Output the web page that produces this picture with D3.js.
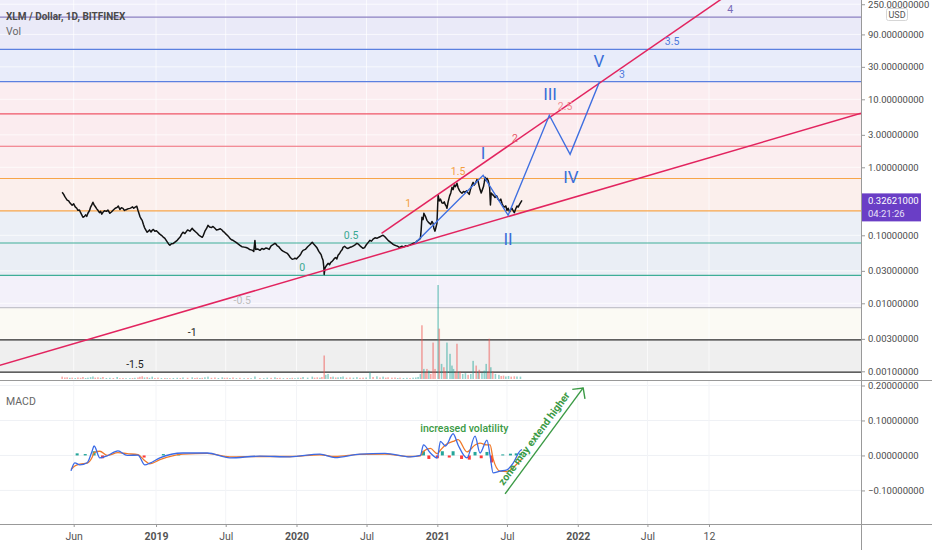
<!DOCTYPE html>
<html>
<head>
<meta charset="utf-8">
<script src="https://cdn.jsdelivr.net/npm/d3@7"></script>
<style>
body{margin:0;background:#fff;}
svg{display:block;font-family:"Liberation Sans Narrow","Roboto",sans-serif;}
</style>
</head>
<body>
<svg width="932" height="550"></svg>
<script>
// XLM / USD daily closes (sampled off the chart)
var priceData = [
["2018-05-02",0.43],["2018-05-06",0.40],["2018-05-09",0.37],["2018-05-12",0.35],["2018-05-15",0.33],["2018-05-19",0.32],["2018-05-22",0.30],
["2018-05-28",0.276],["2018-06-01",0.29],["2018-06-05",0.262],["2018-06-09",0.25],["2018-06-12",0.233],["2018-06-16",0.235],["2018-06-19",0.215],
["2018-06-22",0.20],["2018-06-25",0.184],["2018-06-29",0.19],["2018-07-02",0.20],["2018-07-05",0.19],["2018-07-08",0.211],["2018-07-12",0.23],
["2018-07-15",0.26],["2018-07-18",0.28],["2018-07-21",0.306],["2018-07-24",0.28],["2018-07-27",0.265],["2018-07-31",0.245],["2018-08-03",0.233],
["2018-08-07",0.215],["2018-08-10",0.225],["2018-08-13",0.205],["2018-08-16",0.218],["2018-08-20",0.23],["2018-08-25",0.225],["2018-08-29",0.235],
["2018-09-03",0.211],["2018-09-07",0.22],["2018-09-12",0.235],["2018-09-17",0.25],["2018-09-22",0.258],["2018-09-25",0.27],["2018-09-29",0.24],
["2018-10-03",0.255],["2018-10-07",0.249],["2018-10-11",0.232],["2018-10-15",0.238],["2018-10-20",0.245],["2018-10-25",0.249],["2018-10-29",0.255],
["2018-11-01",0.262],["2018-11-04",0.25],["2018-11-07",0.258],["2018-11-12",0.268],["2018-11-15",0.233],["2018-11-20",0.19],["2018-11-23",0.175],
["2018-11-26",0.166],["2018-11-29",0.145],["2018-12-02",0.13],["2018-12-06",0.118],["2018-12-09",0.111],["2018-12-12",0.115],["2018-12-15",0.12],
["2018-12-19",0.112],["2018-12-22",0.1185],["2018-12-25",0.122],["2018-12-29",0.115],["2019-01-02",0.117],["2019-01-06",0.111],["2019-01-10",0.105],
["2019-01-15",0.10],["2019-01-19",0.095],["2019-01-24",0.0904],["2019-01-27",0.085],["2019-01-30",0.08],["2019-02-03",0.074],["2019-02-06",0.0713],
["2019-02-10",0.075],["2019-02-15",0.076],["2019-02-20",0.08],["2019-02-25",0.0844],["2019-03-01",0.09],["2019-03-05",0.095],["2019-03-08",0.103],
["2019-03-12",0.111],["2019-03-17",0.106],["2019-03-24",0.12],["2019-03-30",0.115],["2019-04-05",0.1268],["2019-04-08",0.12],["2019-04-12",0.115],
["2019-04-18",0.107],["2019-04-22",0.101],["2019-04-25",0.098],["2019-05-01",0.0935],["2019-05-04",0.1],["2019-05-08",0.115],["2019-05-12",0.125],
["2019-05-16",0.140],["2019-05-20",0.132],["2019-05-25",0.13],["2019-05-29",0.135],["2019-06-03",0.1268],["2019-06-07",0.12],["2019-06-12",0.122],
["2019-06-17",0.125],["2019-06-22",0.1185],["2019-06-25",0.113],["2019-06-28",0.11],["2019-07-02",0.104],["2019-07-05",0.100],["2019-07-09",0.095],
["2019-07-12",0.09],["2019-07-16",0.086],["2019-07-20",0.0844],["2019-07-25",0.081],["2019-07-29",0.078],["2019-08-03",0.074],["2019-08-07",0.0713],
["2019-08-12",0.068],["2019-08-18",0.067],["2019-08-23",0.066],["2019-08-28",0.0644],["2019-09-01",0.062],["2019-09-05",0.061],["2019-09-09",0.06],
["2019-09-12",0.058],["2019-09-15",0.084],["2019-09-17",0.062],["2019-09-22",0.063],["2019-09-28",0.0601],["2019-10-03",0.064],["2019-10-08",0.062],
["2019-10-13",0.065],["2019-10-17",0.0644],["2019-10-22",0.062],["2019-10-27",0.07],["2019-11-01",0.073],["2019-11-06",0.0763],["2019-11-09",0.074],
["2019-11-12",0.07],["2019-11-16",0.068],["2019-11-19",0.0644],["2019-11-24",0.060],["2019-11-28",0.058],["2019-12-03",0.056],["2019-12-08",0.0543],
["2019-12-12",0.051],["2019-12-15",0.048],["2019-12-18",0.046],["2019-12-21",0.0444],["2019-12-25",0.045],["2019-12-28",0.046],["2020-01-01",0.045],
["2020-01-05",0.0475],["2020-01-09",0.05],["2020-01-12",0.053],["2020-01-15",0.057],["2020-01-18",0.0601],["2020-01-24",0.062],["2020-01-30",0.068],
["2020-02-04",0.072],["2020-02-08",0.076],["2020-02-11",0.0789],["2020-02-14",0.075],["2020-02-17",0.072],["2020-02-21",0.068],["2020-02-24",0.0644],
["2020-02-28",0.058],["2020-03-02",0.055],["2020-03-05",0.052],["2020-03-07",0.0475],["2020-03-10",0.043],["2020-03-12",0.034],["2020-03-13",0.0265],
["2020-03-15",0.033],["2020-03-19",0.036],["2020-03-23",0.0387],["2020-03-27",0.037],["2020-03-30",0.04],["2020-04-02",0.041],["2020-04-05",0.0429],
["2020-04-09",0.046],["2020-04-12",0.047],["2020-04-15",0.045],["2020-04-18",0.0508],["2020-04-22",0.054],["2020-04-25",0.058],["2020-04-29",0.062],
["2020-05-01",0.0667],["2020-05-05",0.069],["2020-05-10",0.065],["2020-05-14",0.064],["2020-05-19",0.0667],["2020-05-24",0.068],["2020-05-28",0.07],
["2020-06-02",0.073],["2020-06-06",0.0763],["2020-06-10",0.074],["2020-06-14",0.07],["2020-06-18",0.067],["2020-06-22",0.0644],["2020-06-26",0.066],
["2020-06-30",0.072],["2020-07-05",0.078],["2020-07-10",0.0844],["2020-07-14",0.082],["2020-07-18",0.088],["2020-07-23",0.092],["2020-07-28",0.0904],
["2020-08-01",0.093],["2020-08-05",0.095],["2020-08-09",0.098],["2020-08-13",0.100],["2020-08-17",0.096],["2020-08-20",0.092],["2020-08-23",0.088],
["2020-08-26",0.0844],["2020-08-31",0.08],["2020-09-05",0.076],["2020-09-09",0.073],["2020-09-13",0.0713],["2020-09-17",0.07],["2020-09-20",0.069],
["2020-09-23",0.067],["2020-09-26",0.0667],["2020-10-01",0.069],["2020-10-05",0.067],["2020-10-10",0.07],["2020-10-14",0.0689],["2020-10-18",0.071],
["2020-10-22",0.072],["2020-10-26",0.074],["2020-10-30",0.0763],["2020-11-03",0.077],["2020-11-06",0.079],["2020-11-09",0.082],["2020-11-12",0.0844],
["2020-11-15",0.087],["2020-11-18",0.09],["2020-11-20",0.12],["2020-11-22",0.184],["2020-11-25",0.17],["2020-11-27",0.211],["2020-12-01",0.19],
["2020-12-05",0.166],["2020-12-09",0.155],["2020-12-12",0.15],["2020-12-15",0.145],["2020-12-18",0.16],["2020-12-21",0.15],["2020-12-23",0.127],
["2020-12-26",0.115],["2020-12-28",0.128],["2020-12-31",0.15],["2021-01-03",0.388],["2021-01-06",0.32],["2021-01-09",0.34],["2021-01-13",0.30],
["2021-01-16",0.296],["2021-01-19",0.31],["2021-01-22",0.28],["2021-01-24",0.27],["2021-01-26",0.25],["2021-01-29",0.31],["2021-02-02",0.38],
["2021-02-05",0.42],["2021-02-08",0.508],["2021-02-11",0.47],["2021-02-14",0.55],["2021-02-17",0.52],["2021-02-21",0.582],["2021-02-24",0.50],
["2021-02-28",0.45],["2021-03-03",0.43],["2021-03-06",0.415],["2021-03-10",0.44],["2021-03-14",0.43],["2021-03-18",0.45],["2021-03-22",0.42],
["2021-03-25",0.40],["2021-03-28",0.47],["2021-04-01",0.55],["2021-04-04",0.601],["2021-04-07",0.55],["2021-04-10",0.58],["2021-04-14",0.66],
["2021-04-17",0.62],["2021-04-20",0.52],["2021-04-22",0.47],["2021-04-25",0.42],["2021-04-27",0.45],["2021-05-01",0.52],["2021-05-03",0.60],
["2021-05-05",0.713],["2021-05-08",0.64],["2021-05-10",0.69],["2021-05-13",0.644],["2021-05-15",0.58],["2021-05-17",0.5],["2021-05-19",0.28],
["2021-05-21",0.42],["2021-05-24",0.40],["2021-05-28",0.38],["2021-05-31",0.36],["2021-06-04",0.38],["2021-06-08",0.34],["2021-06-12",0.32],
["2021-06-15",0.34],["2021-06-18",0.296],["2021-06-21",0.27],["2021-06-24",0.26],["2021-06-28",0.27],["2021-07-01",0.233],["2021-07-04",0.25],
["2021-07-08",0.22],["2021-07-11",0.24],["2021-07-14",0.25],["2021-07-17",0.23],["2021-07-20",0.215],["2021-07-23",0.24],["2021-07-27",0.27],
["2021-07-30",0.26],["2021-08-02",0.28],["2021-08-05",0.30],["2021-08-09",0.326]
]
var lastPrice = 0.32621
var lastPriceText = ["0.32621000","04:21:26"]

// volume: date, value, 1 = up bar / 0 = down bar
var volData = [
["2018-05-02",14,0],["2018-05-09",9,0],["2018-05-15",10,0],["2018-05-22",7,1],["2018-05-28",8,0],["2018-06-05",6,1],["2018-06-12",9,0],
["2018-06-19",7,0],["2018-06-25",12,0],["2018-07-02",6,1],["2018-07-08",8,1],["2018-07-15",11,1],["2018-07-21",15,1],["2018-07-27",8,0],
["2018-08-03",10,0],["2018-08-10",7,1],["2018-08-16",12,0],["2018-08-25",6,1],["2018-09-03",7,1],["2018-09-12",6,0],["2018-09-22",12,1],
["2018-09-29",5,0],["2018-10-07",6,0],["2018-10-15",5,1],["2018-10-25",5,1],["2018-11-01",6,0],["2018-11-07",7,1],["2018-11-15",9,0],
["2018-11-20",13,0],["2018-11-26",16,0],["2018-12-02",9,1],["2018-12-09",11,0],["2018-12-15",7,1],["2018-12-22",14,1],["2018-12-29",6,0],
["2019-01-06",8,0],["2019-01-15",6,1],["2019-01-24",6,0],["2019-01-30",5,1],["2019-02-06",5,0],["2019-02-15",6,1],["2019-02-25",7,1],
["2019-03-05",6,0],["2019-03-12",9,1],["2019-03-24",7,0],["2019-04-05",10,1],["2019-04-12",6,0],["2019-04-18",8,0],["2019-04-25",6,1],
["2019-05-01",7,0],["2019-05-08",10,1],["2019-05-16",14,1],["2019-05-25",7,0],["2019-06-03",9,0],["2019-06-12",6,1],["2019-06-22",10,1],
["2019-06-28",7,0],["2019-07-05",8,0],["2019-07-12",6,1],["2019-07-20",9,0],["2019-07-29",5,1],["2019-08-07",7,0],["2019-08-18",5,1],
["2019-08-28",6,0],["2019-09-05",5,1],["2019-09-15",15,1],["2019-09-28",6,0],["2019-10-08",5,1],["2019-10-17",8,1],["2019-10-27",7,0],
["2019-11-06",10,1],["2019-11-12",6,0],["2019-11-19",7,0],["2019-11-28",5,1],["2019-12-08",6,0],["2019-12-15",5,1],["2019-12-21",7,0],
["2019-12-28",5,1],["2020-01-05",8,1],["2020-01-12",7,0],["2020-01-18",12,1],["2020-01-30",8,1],["2020-02-11",14,1],["2020-02-17",8,0],
["2020-02-24",10,0],["2020-03-02",8,1],["2020-03-07",12,0],["2020-03-13",140,0],["2020-03-17",25,1],["2020-03-23",30,1],["2020-03-30",12,0],
["2020-04-05",14,1],["2020-04-12",9,0],["2020-04-18",10,1],["2020-04-25",12,1],["2020-05-01",15,1],["2020-05-10",8,0],["2020-05-19",9,0],
["2020-05-28",8,1],["2020-06-06",11,1],["2020-06-14",7,0],["2020-06-22",8,0],["2020-06-30",9,1],["2020-07-10",40,1],["2020-07-18",12,0],
["2020-07-28",16,1],["2020-08-05",9,0],["2020-08-13",14,1],["2020-08-20",8,0],["2020-08-26",10,0],["2020-09-05",8,0],["2020-09-13",9,0],
["2020-09-20",6,1],["2020-09-26",8,0],["2020-10-05",6,1],["2020-10-14",7,1],["2020-10-22",6,0],["2020-10-30",8,1],["2020-11-06",9,1],
["2020-11-12",12,1],["2020-11-18",30,1],["2020-11-22",320,0],["2020-11-27",60,1],["2020-12-01",40,0],["2020-12-05",60,0],["2020-12-10",50,1],
["2020-12-15",30,0],["2020-12-21",217,0],["2020-12-26",60,0],["2021-01-03",560,1],["2021-01-06",300,0],["2021-01-12",90,1],["2021-01-18",70,0],
["2021-01-22",45,0],["2021-01-26",217,1],["2021-02-03",150,1],["2021-02-08",80,1],["2021-02-12",60,1],["2021-02-17",40,0],["2021-02-21",210,0],
["2021-02-25",40,1],["2021-03-01",45,0],["2021-03-08",30,1],["2021-03-15",35,1],["2021-03-22",25,0],["2021-03-29",30,1],["2021-04-04",108,1],
["2021-04-12",80,0],["2021-04-17",40,1],["2021-04-20",55,0],["2021-04-27",35,1],["2021-05-03",50,1],["2021-05-08",90,1],["2021-05-12",40,0],
["2021-05-16",240,0],["2021-05-20",70,1],["2021-05-25",45,0],["2021-06-01",30,1],["2021-06-10",25,1],["2021-06-16",18,0],["2021-06-22",20,0],
["2021-06-28",15,1],["2021-07-05",18,1],["2021-07-12",14,0],["2021-07-20",16,0],["2021-07-27",15,1],["2021-08-05",14,1]
]

// MACD: date, macd, signal
var macdData = [
["2018-05-25",-0.044,-0.040],["2018-06-04",-0.021,-0.030],["2018-06-17",-0.027,-0.025],["2018-07-06",-0.021,-0.022],
["2018-07-19",0.013,-0.005],["2018-07-24",0.027,0.008],["2018-08-08",-0.007,0.012],["2018-08-27",-0.001,0.0],
["2018-09-24",0.013,0.008],["2018-10-18",0.0,0.005],["2018-11-15",0.001,0.002],["2018-12-03",-0.027,-0.015],
["2018-12-16",-0.022,-0.024],["2019-01-11",-0.007,-0.012],["2019-03-12",0.007,0.004],["2019-05-14",0.007,0.006],
["2019-07-12",-0.007,-0.004],["2019-09-28",-0.002,-0.003],["2019-12-15",-0.004,-0.003],["2020-03-02",0.004,0.002],
["2020-04-10",-0.006,-0.003],["2020-06-14",0.004,0.003],["2020-08-18",0.006,0.004],["2020-10-23",-0.004,-0.003],
["2020-11-18",0.0,-0.001],["2020-11-26",0.030,0.012],["2020-12-14",0.007,0.020],["2021-01-01",-0.007,0.005],
["2021-01-09",0.040,0.015],["2021-01-22",0.027,0.030],["2021-02-11",0.062,0.040],["2021-02-24",0.030,0.045],
["2021-03-19",-0.007,0.010],["2021-04-09",0.055,0.030],["2021-04-22",0.007,0.035],["2021-05-10",0.044,0.030],
["2021-05-18",0.0,0.030],["2021-05-26",-0.050,-0.010],["2021-06-13",-0.045,-0.045],["2021-07-01",-0.041,-0.046],
["2021-07-17",-0.022,-0.035],["2021-08-04",0.013,-0.015],["2021-08-09",0.017,-0.010]
]
var histData = [
["2018-06-10",0.006],["2018-07-01",0.004],["2018-07-24",0.012],["2018-08-15",-0.008],["2018-11-05",0.004],["2018-12-01",-0.006],
["2019-01-20",0.004],["2019-03-01",0.004],["2020-11-26",0.012],["2020-12-10",-0.010],["2021-01-01",-0.008],["2021-01-14",0.012],
["2021-02-01",-0.006],["2021-02-11",0.012],["2021-03-05",-0.010],["2021-03-25",-0.012],["2021-04-09",0.010],["2021-04-25",-0.008],
["2021-05-10",0.010],["2021-05-22",-0.020],["2021-06-20",0.003],["2021-07-10",0.005],["2021-07-25",0.006],["2021-08-05",0.006]
]

// fib extension levels
var fibLevels = ["-1.5","-1","-0.5","0","0.5","1","1.5","2","2.5","3","3.5","4"]
var fibPrices = [0.000973,0.0029,0.00865,0.0258,0.0771,0.229,0.684,2.04,6.10,18.2,54.2,161.8]
var fibLabelDates = ["2018-11-07","2019-04-05","2019-08-13","2020-01-16","2020-05-22","2020-10-17",
  "2021-02-24","2021-07-22","2021-11-29","2022-04-26","2022-09-03","2023-02-01"]
var fibLineColors = ['#2b2b2b','#2b2b2b','#c4c4cc','#3fae98','#3fae98','#f7a54a','#f7a54a','#f06a78','#ef5466','#5b80e0','#5b80e0','#8c80c2']
var fibTextColors = ['#222','#222','#bdbdbd','#3aa892','#3aa892','#f3a040','#f3a040','#e85a6a','#f08a92','#4f78dc','#4f78dc','#7a6cb8']
var bandColors = ['#efefef','#fbfaf4','#f3f1fa','#eaeef5','#ebeff6','#fbefec','#fbeef0','#fbecef','#fbedf0','#e8ecfa','#eaeaf8','#efeefa']

// drawings
var lowerTrend = [["2017-11-21",0.001225],["2024-01-07",6.22]]
var upperTrend = [["2020-08-09",0.107],["2023-03-01",470]]
var wavePath = [["2020-11-04",0.0763],["2021-04-30",0.763],["2021-07-04",0.197],["2021-10-19",5.82],["2021-12-12",1.553],["2022-02-26",17.8]]
var waveLabels = [["I","2021-04-30",1.32],["II","2021-07-04",0.072],["III","2021-10-21",9.77],["IV","2021-12-14",0.588],["V","2022-02-25",29.9]]
var noteVol = ["increased volatility","2021-03-12",0.068]
var noteArrow = ["zone may extend higher",["2021-06-26",-0.11],["2022-01-15",0.193]]

// axes
var priceTicks = [250,90,30,10,3,1,0.1,0.03,0.01,0.003,0.001]
var macdTicks = [0.2,0.1,0,-0.1]
var timeTickDates = ["2018-06-01","2019-01-01","2019-07-01","2020-01-01","2020-07-01","2021-01-01","2021-07-01","2022-01-01","2022-07-01","2022-12-08"]
var timeTickLabels = ["Jun","2019","Jul","2020","Jul","2021","Jul","2022","Jul","12"]


var parse = d3.utcParse('%Y-%m-%d')
var svg = d3.select('svg')
var plotW = 861, mainH = 380, macdTop = 380, macdBot = 524

var x = d3.scaleUtc().domain([new Date(Date.UTC(2017,10,21,12)), new Date(Date.UTC(2024,0,7))]).range([0, plotW])
var y = d3.scaleLog().domain([0.000745, 288.6]).range([mainH, 0])
var yv = d3.scaleLinear().domain([0, 600]).range([379, 278.3])
var ym = d3.scaleLinear().domain([-0.196, 0.2157]).range([macdBot, macdTop])

var defs = svg.append('defs')
defs.append('clipPath').attr('id', 'clipMain').append('rect').attr('width', plotW).attr('height', mainH)
defs.append('clipPath').attr('id', 'clipMacd').append('rect').attr('y', macdTop).attr('width', plotW).attr('height', macdBot - macdTop)

var main = svg.append('g').attr('clip-path', 'url(#clipMain)')

// fib background bands
main.selectAll('rect.band').data(fibPrices).enter().append('rect')
    .attr('class', 'band')
    .attr('x', 0).attr('width', plotW)
    .attr('y', function(d, i) { return i < fibPrices.length - 1 ? y(fibPrices[i + 1]) : 0 })
    .attr('height', function(d, i) { return y(d) - (i < fibPrices.length - 1 ? y(fibPrices[i + 1]) : 0) })
    .attr('fill', function(d, i) { return bandColors[i] })

// faint grid
main.selectAll('line.hg').data(priceTicks).enter().append('line')
    .attr('x1', 0).attr('x2', plotW)
    .attr('y1', function(d) { return y(d) }).attr('y2', function(d) { return y(d) })
    .attr('stroke', '#fff').attr('stroke-opacity', 0.7)
main.selectAll('line.vg').data(timeTickDates).enter().append('line')
    .attr('x1', function(d) { return x(parse(d)) }).attr('x2', function(d) { return x(parse(d)) })
    .attr('y1', 0).attr('y2', mainH)
    .attr('stroke', '#fff').attr('stroke-opacity', 0.7)

// fib lines
main.selectAll('line.fib').data(fibPrices).enter().append('line')
    .attr('x1', 0).attr('x2', plotW)
    .attr('y1', function(d) { return y(d) }).attr('y2', function(d) { return y(d) })
    .attr('stroke', function(d, i) { return fibLineColors[i] })
    .attr('stroke-width', 1.2)

// volume
main.selectAll('rect.vol').data(volData).enter().append('rect')
    .attr('x', function(d) { return x(parse(d[0])) - 0.8 })
    .attr('width', 1.6)
    .attr('y', function(d) { return yv(d[1]) })
    .attr('height', function(d) { return yv(0) - yv(d[1]) })
    .attr('fill', function(d) { return d[2] ? '#26a69a' : '#ef5350' })
    .attr('opacity', 0.5)

// price
var line = d3.line()
    .x(function(d) { return x(parse(d[0])) })
    .y(function(d) { return y(d[1]) })

main.append('path').datum(priceData)
    .attr('d', line)
    .attr('fill', 'none')
    .attr('stroke', '#111')
    .attr('stroke-width', 1.5)
    .attr('stroke-linejoin', 'round')

// trend lines and wave count
main.selectAll('path.trend').data([lowerTrend, upperTrend]).enter().append('path')
    .attr('d', line)
    .attr('fill', 'none')
    .attr('stroke', '#e2245f')
    .attr('stroke-width', 1.5)

main.append('path').datum(wavePath)
    .attr('d', line)
    .attr('fill', 'none')
    .attr('stroke', '#3f6fe0')
    .attr('stroke-width', 1.4)

main.selectAll('text.wave').data(waveLabels).enter().append('text')
    .attr('x', function(d) { return x(parse(d[1])) })
    .attr('y', function(d) { return y(d[2]) })
    .attr('text-anchor', 'middle')
    .attr('fill', '#3a6fd8')
    .style('font-size', '17px')
    .text(function(d) { return d[0] })

// fib level labels
main.selectAll('text.fib').data(fibLevels).enter().append('text')
    .attr('x', function(d, i) { return x(parse(fibLabelDates[i])) })
    .attr('y', function(d, i) { return y(fibPrices[i]) - 4 })
    .attr('text-anchor', 'middle')
    .attr('fill', function(d, i) { return fibTextColors[i] })
    .style('font-size', '10.5px')
    .text(function(d) { return d })

// legend
svg.append('text').attr('x', 6).attr('y', 19.5)
    .attr('fill', '#4a4a4a').style('font-size', '10px').style('font-weight', 'bold')
    .text('XLM / Dollar, 1D, BITFINEX')
svg.append('text').attr('x', 6).attr('y', 34.5)
    .attr('fill', '#666').style('font-size', '10.5px')
    .text('Vol')

// MACD pane
var mp = svg.append('g').attr('clip-path', 'url(#clipMacd)')
mp.selectAll('line.mg').data(macdTicks).enter().append('line')
    .attr('x1', 0).attr('x2', plotW)
    .attr('y1', function(d) { return ym(d) }).attr('y2', function(d) { return ym(d) })
    .attr('stroke', '#eff1f5')
mp.selectAll('line.mvg').data(timeTickDates).enter().append('line')
    .attr('x1', function(d) { return x(parse(d)) }).attr('x2', function(d) { return x(parse(d)) })
    .attr('y1', macdTop).attr('y2', macdBot)
    .attr('stroke', '#f3f4f7')

mp.selectAll('rect.hist').data(histData).enter().append('rect')
    .attr('x', function(d) { return x(parse(d[0])) - 1.5 })
    .attr('width', 3)
    .attr('y', function(d) { return Math.min(ym(d[1]), ym(0)) })
    .attr('height', function(d) { return Math.abs(ym(d[1]) - ym(0)) })
    .attr('fill', function(d) { return d[1] >= 0 ? '#26a69a' : '#ff3b3b' })

mp.append('path').datum(macdData)
    .attr('d', d3.line().curve(d3.curveMonotoneX)
        .x(function(d) { return x(parse(d[0])) }).y(function(d) { return ym(d[2]) }))
    .attr('fill', 'none').attr('stroke', '#f07a2a').attr('stroke-width', 1.3)
mp.append('path').datum(macdData)
    .attr('d', d3.line().curve(d3.curveMonotoneX)
        .x(function(d) { return x(parse(d[0])) }).y(function(d) { return ym(d[1]) }))
    .attr('fill', 'none').attr('stroke', '#3b6be6').attr('stroke-width', 1.3)

svg.append('text').attr('x', 6).attr('y', 405)
    .attr('fill', '#666').style('font-size', '10.5px').text('MACD')

svg.append('text')
    .attr('x', x(parse(noteVol[1]))).attr('y', ym(noteVol[2]))
    .attr('text-anchor', 'middle').attr('fill', '#3b9a45')
    .style('font-size', '10.5px').style('font-weight', '500')
    .text(noteVol[0])

// arrow annotation
var a0 = [x(parse(noteArrow[1][0])), ym(noteArrow[1][1])]
var a1 = [x(parse(noteArrow[2][0])), ym(noteArrow[2][1])]
var ang = Math.atan2(a0[1] - a1[1], a0[0] - a1[0])
var arrow = svg.append('g').attr('stroke', '#3b9a45').attr('stroke-width', 1.4).attr('fill', 'none')
arrow.append('line').attr('x1', a0[0]).attr('y1', a0[1]).attr('x2', a1[0]).attr('y2', a1[1])
arrow.append('path')
    .attr('d', 'M' + (a1[0] + 11 * Math.cos(ang - 0.8)) + ',' + (a1[1] + 11 * Math.sin(ang - 0.8)) +
        'L' + a1[0] + ',' + a1[1] +
        'L' + (a1[0] + 11 * Math.cos(ang + 0.8)) + ',' + (a1[1] + 11 * Math.sin(ang + 0.8)))
var th = Math.atan2(a1[1] - a0[1], a1[0] - a0[0])
// text sits on the upper-left side of the arrow shaft
var mx = (a0[0] + a1[0]) / 2 + 6 * Math.sin(th) - 4 * Math.cos(th)
var my = (a0[1] + a1[1]) / 2 - 6 * Math.cos(th) - 4 * Math.sin(th)
svg.append('text')
    .attr('transform', 'translate(' + mx + ',' + my + ') rotate(' + (th * 180 / Math.PI) + ')')
    .attr('text-anchor', 'middle').attr('fill', '#3b9a45')
    .style('font-size', '10.5px').style('font-weight', 'bold')
    .text(noteArrow[0])

// separators
svg.append('line').attr('x1', 0).attr('x2', 932).attr('y1', macdTop + 0.5).attr('y2', macdTop + 0.5).attr('stroke', '#999')
svg.append('line').attr('x1', 0).attr('x2', 932).attr('y1', macdBot + 0.5).attr('y2', macdBot + 0.5).attr('stroke', '#999')
svg.append('line').attr('x1', plotW + 0.5).attr('x2', plotW + 0.5).attr('y1', 0).attr('y2', 550).attr('stroke', '#999')

// right price axis
var fmt = d3.format('.8f')
var ay = svg.append('g').attr('transform', 'translate(' + plotW + ',0)')
    .call(d3.axisRight(y).tickValues(priceTicks).tickFormat(fmt).tickSize(4).tickPadding(3))
var am = svg.append('g').attr('transform', 'translate(' + plotW + ',0)')
    .call(d3.axisRight(ym).tickValues(macdTicks).tickFormat(fmt).tickSize(4).tickPadding(3))
var ax = svg.append('g').attr('transform', 'translate(0,' + macdBot + ')')
    .call(d3.axisBottom(x).tickValues(timeTickDates.map(parse))
        .tickFormat(function(d, i) { return timeTickLabels[i] }).tickSize(3).tickPadding(6))

;[ay, am, ax].forEach(function(g) {
    g.select('.domain').remove()
    g.selectAll('line').attr('stroke', '#999')
    g.selectAll('text').attr('fill', '#4c4c4c').style('font-size', '9.5px')
        .style('font-family', '"Liberation Sans Narrow","Roboto",sans-serif')
})
ax.selectAll('text').style('font-size', '10.5px').attr('fill', '#555')
    .style('font-weight', function(d, i) { return /^\d{4}$/.test(timeTickLabels[i]) ? 'bold' : 'normal' })

// USD badge
svg.append('rect').attr('x', 886.5).attr('y', 8.5).attr('width', 21).attr('height', 12).attr('rx', 2)
    .attr('fill', '#fff').attr('stroke', '#d6d6d6')
svg.append('text').attr('x', 897).attr('y', 17.8).attr('text-anchor', 'middle')
    .attr('fill', '#555').style('font-size', '9px').text('USD')

// last price tag
var py = y(lastPrice)
svg.append('rect').attr('x', plotW + 1).attr('y', py - 7).attr('width', 59).attr('height', 28).attr('fill', '#6a3ec6')
svg.append('text').attr('x', plotW + 7).attr('y', py + 4).attr('fill', '#fff').style('font-size', '9.5px').text(lastPriceText[0])
svg.append('text').attr('x', plotW + 7).attr('y', py + 17).attr('fill', '#e8e0f8').style('font-size', '9.5px').text(lastPriceText[1])
</script>
</body>
</html>
